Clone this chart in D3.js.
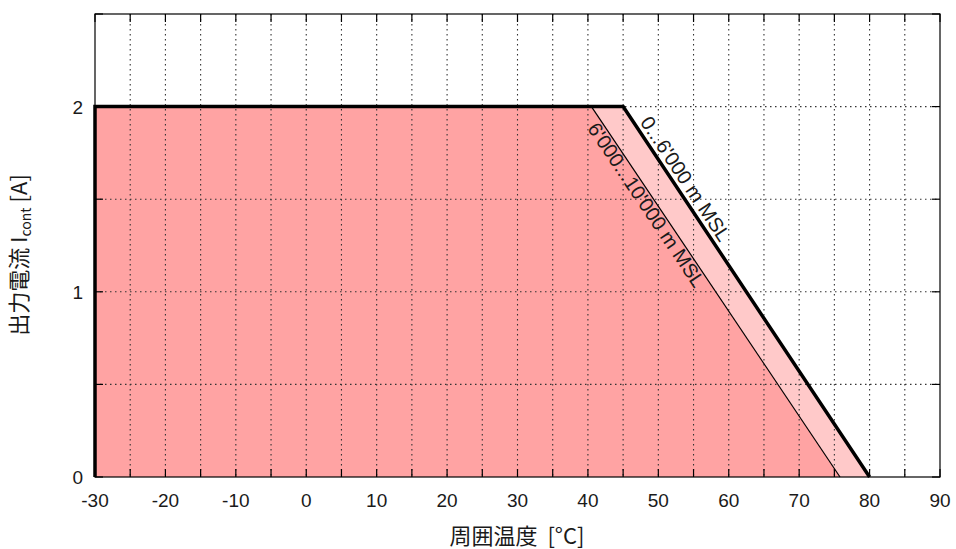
<!DOCTYPE html>
<html>
<head>
<meta charset="utf-8">
<script src="https://cdn.jsdelivr.net/npm/d3@7"></script>
<style>
  body { margin: 0; background: #fff; }
  svg text { font-family: "Liberation Sans", Arial, sans-serif; fill: #1a1a1a; white-space: pre; }
</style>
</head>
<body>
<svg id="chart" width="956" height="549"></svg>
<script>
// derating curves (temperature °C, current A)
var lowAlt = [[-30, 0], [-30, 2], [45, 2], [80, 0]];   // 0...6'000 m MSL
var highAlt = [[-30, 0], [-30, 2], [40.5, 2], [75.8, 0]]; // 6'000...10'000 m MSL
var xTicks = [-30, -20, -10, 0, 10, 20, 30, 40, 50, 60, 70, 80, 90];
var xMinor = d3.range(-30, 91, 5);
var yTicks = [0, 1, 2];
var yMinor = [0, 0.5, 1, 1.5, 2, 2.5];

var width = 956, height = 549;
var m = { left: 95, right: 940, top: 14, bottom: 477 };

var x = d3.scaleLinear().domain([-30, 90]).range([m.left, m.right]);
var y = d3.scaleLinear().domain([0, 2.5]).range([m.bottom, m.top]);

var svg = d3.select("#chart");

var area = d3.area()
    .x(function (d) { return x(d[0]); })
    .y0(y(0))
    .y1(function (d) { return y(d[1]); });
var line = d3.line()
    .x(function (d) { return x(d[0]); })
    .y(function (d) { return y(d[1]); });

svg.append("path").attr("d", area(lowAlt)).attr("fill", "#ffc9c9");
svg.append("path").attr("d", area(highAlt)).attr("fill", "#ffa3a3");

// dotted grid
var grid = svg.append("g")
    .attr("stroke", "#333")
    .attr("stroke-width", 1.1)
    .attr("stroke-dasharray", "1.5,3.5");
grid.selectAll(".vg")
    .data(xMinor.slice(1, -1))
    .enter().append("line")
    .attr("x1", function (d) { return x(d); })
    .attr("x2", function (d) { return x(d); })
    .attr("y1", m.top).attr("y2", m.bottom);
grid.selectAll(".hg")
    .data(yMinor.slice(1, -1))
    .enter().append("line")
    .attr("x1", m.left).attr("x2", m.right)
    .attr("y1", function (d) { return y(d); })
    .attr("y2", function (d) { return y(d); });

// inward ticks on all four sides
var ticks = svg.append("g").attr("stroke", "#000").attr("stroke-width", 1.2);
xMinor.forEach(function (d) {
    ticks.append("line").attr("x1", x(d)).attr("x2", x(d)).attr("y1", m.bottom).attr("y2", m.bottom - 8);
    ticks.append("line").attr("x1", x(d)).attr("x2", x(d)).attr("y1", m.top).attr("y2", m.top + 8);
});
yMinor.forEach(function (d) {
    ticks.append("line").attr("x1", m.left).attr("x2", m.left + 8).attr("y1", y(d)).attr("y2", y(d));
    ticks.append("line").attr("x1", m.right).attr("x2", m.right - 8).attr("y1", y(d)).attr("y2", y(d));
});

// plot frame
svg.append("rect")
    .attr("x", m.left).attr("y", m.top)
    .attr("width", m.right - m.left).attr("height", m.bottom - m.top)
    .attr("fill", "none").attr("stroke", "#000").attr("stroke-width", 1.2);

// curves
svg.append("path").attr("d", line(highAlt.slice(2)))
    .attr("fill", "none").attr("stroke", "#000").attr("stroke-width", 1.2);
svg.append("path").attr("d", line(lowAlt))
    .attr("fill", "none").attr("stroke", "#000").attr("stroke-width", 3.5)
    .attr("stroke-linejoin", "miter");

// tick labels
svg.selectAll(".xl")
    .data(xTicks)
    .enter().append("text")
    .attr("x", function (d) { return x(d); })
    .attr("y", m.bottom + 30)
    .attr("text-anchor", "middle")
    .attr("font-size", 19)
    .text(function (d) { return d; });
svg.selectAll(".yl")
    .data(yTicks)
    .enter().append("text")
    .attr("x", m.left - 12)
    .attr("y", function (d) { return y(d) + 7; })
    .attr("text-anchor", "end")
    .attr("font-size", 19)
    .text(function (d) { return d; });

// axis titles
svg.append("text")
    .attr("x", 517).attr("y", 544)
    .attr("text-anchor", "middle")
    .attr("font-size", 22)
    .style("font-family", "'Noto Sans CJK JP', 'Liberation Sans', sans-serif")
    .text("周囲温度  [°C]");

var yl = svg.append("text")
    .attr("transform", "translate(27,255) rotate(-90)")
    .attr("text-anchor", "middle")
    .attr("font-size", 22)
    .style("font-family", "'Noto Sans CJK JP', 'Liberation Sans', sans-serif");
yl.append("tspan").text("出力電流 I");
yl.append("tspan").attr("font-size", 14).attr("dy", 4).text("cont");
yl.append("tspan").attr("dy", -4).text(" [A]");

// curve labels along the slopes
function slopeLabel(seg, txt, startT, offset) {
    var x0 = x(seg[0][0]), y0 = y(seg[0][1]);
    var x1 = x(seg[1][0]), y1 = y(seg[1][1]);
    var ang = Math.atan2(y1 - y0, x1 - x0);
    var px = x0 + (x1 - x0) * startT, py = y0 + (y1 - y0) * startT;
    // shift perpendicular
    px += Math.sin(ang) * offset;
    py -= Math.cos(ang) * offset;
    svg.append("text")
        .attr("transform", "translate(" + px + "," + py + ") rotate(" + (ang * 180 / Math.PI) + ")")
        .attr("font-size", 20)
        .text(txt);
}
slopeLabel([lowAlt[2], lowAlt[3]], "0...6'000 m MSL", 0.05, 5);
slopeLabel([highAlt[2], highAlt[3]], "6'000...10'000 m MSL", 0.035, -16);
</script>
</body>
</html>
